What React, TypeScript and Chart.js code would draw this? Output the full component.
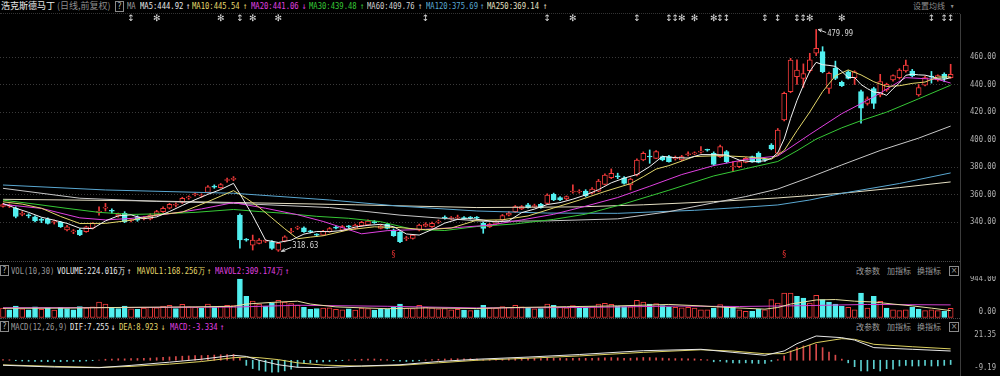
import React, { useEffect, useRef } from "react";
import { Chart, registerables } from "chart.js";
Chart.register(...registerables);

// ---------- DATA ----------
const OPEN = [351.4,351.5,350,345.5,345.2,343.8,341.8,342,339.8,339.7,334.2,332.8,334,333,335.5,347,350,348.5,344.5,346.3,341,343.8,342.2,342.2,345.2,347.5,350,352.2,354.3,357.5,359.8,358.9,361.5,365.9,364.9,370.2,371,345,327.5,323.2,324.4,325.9,325.7,319.6,326.1,332.7,335.5,335.8,333.3,330.8,330.5,333,336,334.1,336.8,335.4,337.3,337.8,340,335.3,338.3,334.1,332.4,327.8,328.1,334.1,337,336.6,339.9,343.5,342.4,342.9,343,343.3,343.4,339,336.6,338.5,341.5,345,347.5,349.5,352.4,351,352.9,353.6,360.1,357.7,356.7,361.8,361.8,362.5,360.9,362.5,367.4,372.2,373.3,372.2,366.9,374.2,385.1,387.8,386.3,387.5,387.5,386,385.1,388.9,389.6,390.8,392.6,390,387.5,391.2,380,380.2,383.4,387.5,390,385.4,396,390,414.2,434.8,445.7,444.5,450,462.7,463.9,437.2,451.8,441.6,449.3,445,434.8,426.3,437,432.4,436,443.3,445,449.8,449.8,432.4,439.6,446,443.3,447.4,445];
const HIGH = [353.5,353.2,351,347.5,346,344.5,343,343,341.5,340.5,337.5,334.5,335,337,339.5,351,353.5,349.5,346.5,347.5,342.5,344.5,344,346,348.5,351,353.5,354,358,359,361,360.5,366.5,367,368,372,373,346,328,330.5,328,327,326.5,325,330,335.4,337,336.5,334,331.5,334,336,337,337.5,337.5,338.5,340.5,341.5,341,338,339,335,333,329.5,331,338.5,339.5,340,341.5,344.5,344,345,344,344,344,340,339,341,345.5,347.5,352,352,353.5,353,353.5,360.5,361,358.5,359,367,363.5,363.5,365,371,375,378.6,375.5,373,372,386,391,392.4,392,388,388.5,388,388.5,391,391,394.8,393,391,396,392,383.9,384.5,387,388,391,386,397,408,434.5,459,458,455,462.7,479.99,467.5,449,457,442.5,450,450,436,431,438,447.4,441,447,451.5,457.8,451,440,446,449.5,447,448.5,454.7];
const LOW = [350.8,350.5,343,344.5,343,340,339.5,338.5,338.5,336,333.5,331.5,330,332.5,335,345,348,346.5,343.5,339.5,340,340.5,341.5,341.5,344.5,347,349.5,351,353.5,356.5,359,358,361,364.5,364.5,369,370,321,326,319.6,324,325,320,318.63,325.5,332,334.5,332.5,332,329.5,330,332.5,335,333.5,335.5,335,337,337.5,339,335,335,329.5,325,326.5,327.5,333.5,336.5,336,339,342,341.5,342,342,342,342,331.8,336,338,341,344.5,347,349,350,350.5,350,353,355.5,355.5,356,361,361,358.5,360.5,362,367,371.5,371.5,367.5,363.3,373.5,384.5,382.7,386,384.5,383.5,385,384.5,388,389,390,391.5,381,387,383,376.6,379.5,383,383.5,383,384,392.5,389.5,413.5,434,440,438,449,461,448.5,433.6,443.5,438.5,444,440,411.8,425,422.5,431,435,442.5,444,449,445.5,431.5,439,441,442.5,442,444.5];
const CLOSE = [352.6,352.5,344,346.2,344.4,340.8,341.2,339,340.4,336.6,336.5,333.2,330.6,336.5,339,347.8,350.8,347.8,345.5,340.3,341.8,341.4,343,345,347.5,349.9,352.8,352.6,357.2,357.9,360.3,359.3,365.6,365.4,367.3,370.7,371.4,327,326.8,326.9,326.9,326.3,320.8,324.4,329.3,333.2,336,333,332.9,330.4,333.4,335.3,335.6,336.6,336.4,337.8,339.7,340.7,339.5,337.3,335.3,330,325.7,328.3,330.5,337.8,338.5,339,340.4,342.8,343,343.3,342.5,342.9,342.8,335.4,338.3,340.5,344.6,346.5,351.2,351.2,350.4,352,350.4,359.6,356,356,358.4,362.4,362.3,359.2,364,369.8,374.2,375.4,372.8,368.1,371.3,385.1,389.9,387.3,391.2,385.1,383.9,386.6,387.5,389.4,390.1,391.3,392.2,381.9,394.8,383.9,380.5,383.9,386.3,383.9,383.4,384.9,393.1,406.9,433.6,457.8,450.5,448,458,466.3,449.3,448.1,444.5,439.2,444.5,449.3,422.7,429.5,426.3,442.1,440.1,446.4,450.5,454.2,446.4,437.7,445,445.4,446.4,444.5,447.4];
// volume, unit 万
const VOLUME = [230,190,280,210,190,260,200,240,180,250,220,190,270,240,260,380,330,250,220,280,210,200,230,250,240,280,300,220,320,260,250,230,330,270,280,300,290,944,520,400,330,280,350,420,380,340,300,250,200,220,230,240,200,190,210,180,230,220,180,200,210,260,330,230,220,300,250,240,210,220,190,200,180,170,190,300,240,230,270,250,300,260,230,210,220,330,300,250,240,290,240,260,270,330,350,320,280,270,260,420,380,330,340,290,260,250,240,250,230,191,191,233,314,273,249,191,151,151,208,191,437,355,600,600,519,478,355,543,437,380,331,273,249,191,600,233,519,396,233,191,167,191,249,208,167,191,167,151,224];
const MACD_HIST = [0.6,0.4,-0.3,-0.6,-0.8,-1.0,-1.0,-1.1,-1.2,-1.1,-1.0,-0.9,-1.0,-0.6,-0.3,0.2,0.8,1.0,1.2,1.1,1.3,1.4,1.5,1.7,2.0,2.3,2.6,2.9,3.2,3.4,3.6,3.7,3.9,4.1,4.3,4.4,4.6,1.5,-4.0,-6.5,-7.8,-8.6,-9.4,-9.2,-8.3,-7.0,-5.5,-2.5,-2.0,-1.6,-1.2,-1.0,-0.6,-0.3,0.3,0.6,0.8,0.9,1.0,0.8,0.5,-0.3,-0.8,-1.0,-0.8,-0.4,0.3,0.6,0.8,1.0,1.2,1.2,1.1,1.2,1.0,0.4,0.5,0.6,0.9,1.1,1.4,1.6,1.6,1.5,1.4,1.6,1.6,1.5,1.4,1.5,1.6,1.5,1.6,1.8,2.0,2.1,1.9,1.6,1.6,2.0,2.2,2.1,2.0,1.7,1.4,1.3,1.3,1.2,1.1,0.8,0.4,-1.2,-0.8,-1.5,-2.0,-2.2,-2.0,-2.2,-2.5,-2.4,-0.8,0.5,3.4,7.3,9.9,11.2,11.7,12.5,9.9,6.5,4.0,0.9,-2.0,-5.0,-8.4,-8.4,-6.6,-8.4,-6.6,-7.0,-4.5,-4.0,-4.5,-4.5,-4.0,-4.5,-4.5,-4.0,-3.334];

// moving-average lines: [candle index, value]
const MA5 = [[0,353.5],[2,350],[4,347],[6,343.5],[8,341.3],[10,339],[12,335.5],[14,335.2],[16,340.8],[18,344.5],[20,345.2],[22,342.4],[24,343.7],[26,347.6],[28,352],[30,356.2],[32,360.1],[34,363.6],[36,368.1],[37,360.4],[38,352.6],[39,344.6],[40,335.8],[41,326.8],[43,325.1],[45,326.8],[47,331.2],[49,333.1],[51,333],[53,333.8],[55,336.3],[57,337.6],[59,338.3],[61,336.6],[63,331.3],[65,330.5],[67,334.5],[69,339.2],[71,341.9],[73,342.5],[75,341.4],[77,340],[79,340.9],[81,346.8],[83,349.4],[85,352.7],[87,354.1],[89,356.6],[91,359.7],[93,363.5],[95,368.5],[97,371.9],[99,374.5],[101,380.3],[103,387.7],[105,386.8],[107,386.5],[109,389],[111,389],[113,388.8],[115,385],[117,383.7],[119,384.5],[120,386.3],[121,390.4],[122,400.4],[123,415.3],[124,428.4],[125,439.4],[126,449.6],[127,456.1],[128,454.4],[129,453.9],[130,453.2],[131,449.5],[132,445.1],[133,445.1],[134,440],[135,437],[136,434.5],[137,434],[138,432.1],[139,436.9],[140,441.1],[141,446.7],[142,447.5],[143,447],[144,446.8],[145,445.7],[146,444.2],[147,443.8],[148,444.92]];
const MA10 = [[0,354.7],[3,353],[6,350],[9,344],[12,338.9],[16,339],[20,341.3],[24,345.1],[28,347.2],[32,354.8],[36,362.8],[38,357.2],[40,350.7],[42,342.9],[44,335.1],[46,327.8],[48,329],[50,330],[54,334.3],[58,336.5],[62,335.9],[66,334.4],[70,335.6],[74,341.3],[78,341.6],[82,344.4],[86,350.2],[90,355.9],[94,362.2],[98,367.9],[100,373],[102,378.5],[104,381],[108,387.6],[112,388.3],[116,387.4],[120,385.7],[122,392],[124,406.4],[126,420],[128,434.8],[130,446.3],[132,450.6],[134,447],[136,442],[138,438.6],[140,439.1],[142,440.8],[144,441.8],[146,445.4],[148,445.54]];
const MA20 = [[0,352.8],[6,349.9],[12,343],[16,341.5],[20,342.6],[26,346],[31,349.5],[36,354.1],[41,350],[46,345.3],[50,340.4],[56,331.4],[60,333.7],[66,334.7],[71,336],[76,337.7],[81,341.5],[86,345.6],[91,351.5],[96,357.8],[101,366],[106,374.5],[111,381],[116,385.5],[121,388],[126,403.7],[131,418.8],[136,431],[141,445],[146,443.7],[148,441.06]];
const MA30 = [[0,355.9],[5,353],[10,349.9],[15,347],[20,345.5],[25,346],[30,347],[36,349.1],[40,347.6],[44,346.3],[49,344.1],[54,342.7],[59,340.2],[64,334.6],[69,333.8],[74,336.7],[80,338.6],[86,341.9],[91,345.7],[97,353.2],[104,363.1],[111,373.5],[116,378.8],[121,384],[124,391.8],[127,400.3],[131,408.5],[134,413.7],[138,419.9],[143,429.6],[148,439.48]];
const MA60 = [[0,364.5],[12,357.3],[24,355],[36,353.6],[51,350.5],[62,345],[75,340.5],[85,340.8],[96,342.3],[104,347.5],[111,354],[116,358.5],[121,364],[126,372.5],[131,381.5],[137,392],[143,401],[148,409.76]];
const MA120 = [[0,366.9],[16,363.3],[36,360.9],[51,356],[62,351.5],[74,348],[85,346.5],[96,346.3],[108,348.5],[115,350.5],[121,352.4],[126,356],[131,360.8],[140,368],[148,375.69]];
const MA250 = [[0,356.5],[20,355.5],[36,354.2],[55,352.5],[74,350.5],[90,351],[100,352.5],[111,354.8],[121,357.5],[131,360.9],[140,365],[148,369.14]];
const MAVOL1 = [[0,225],[10,230],[20,250],[30,260],[36,275],[38,330],[42,370],[46,400],[48,330],[52,260],[60,215],[66,235],[74,220],[80,245],[88,265],[96,285],[104,320],[109,285],[114,240],[119,205],[121,245],[123,330],[125,380],[127,430],[130,440],[133,400],[136,380],[139,330],[142,285],[145,230],[148,168.256]];
const MAVOL2 = [[0,240],[20,245],[36,255],[46,300],[60,275],[74,235],[90,245],[105,280],[115,270],[125,290],[135,320],[148,309.174]];
const DIF = [[0,-3.9],[8,-5.3],[15,-5.8],[20,-4],[26,-1.5],[31,0.8],[36,3.9],[38,3],[40,0],[43,-3.5],[46,-5.5],[50,-5.8],[56,-4.5],[62,-3.5],[68,-1],[74,0.8],[82,2.5],[90,4.5],[100,7.5],[109,8.6],[114,6.2],[119,3.9],[122,7.3],[124,13],[127,19],[131,17.7],[133,15.8],[136,9.9],[142,8.6],[148,7.255]];
const DEA = [[0,-3.6],[8,-4.8],[15,-5.6],[20,-4.8],[26,-3],[31,-1],[36,2],[38,2.5],[40,2],[43,0.5],[46,-2],[50,-3.8],[56,-4.6],[62,-4],[68,-2],[74,0],[82,1.6],[90,3.4],[100,6.2],[109,8.2],[114,7.2],[119,5.1],[122,5.2],[124,8.5],[127,13.8],[131,16.9],[133,16.4],[136,12.5],[142,10.6],[148,8.923]];

const PRICE_TICKS = [340, 360, 380, 400, 420, 440, 460];
const VOL_TICKS = [944, 0];
const MACD_TICKS = [21.35, -9.19];
const EVENT_ARROWS = [20, 37, 66, 85, 99, 104, 105, 112, 113, 119, 121, 124, 125, 145, 147, 148];
const EVENT_STARS = [24, 34, 39, 43, 89, 106, 108, 111, 126, 131];
const S_MARKS = [61, 122];

// ---------- STYLE ----------
const RED = "#f03a3a";
const CYAN = "#52f0f0";
const GRID = "#3a3a3a";
const AXIS_TXT = "#b4b4b4";
const ANNO = "#d6d6d6";
const NUM_FONT = '"DejaVu Sans Mono", monospace';
const CJK_FONT = '"Noto Sans CJK SC", sans-serif';
const X_MIN = -0.4685;
const X_MAX = 149.46;

function drawNarrow(ctx: any, text: string, x: number, y: number, color: string, align = "left", size = 9, sx = 0.8) {
  ctx.save();
  ctx.translate(x, y);
  ctx.scale(sx, 1);
  ctx.font = `${size}px ${NUM_FONT}`;
  ctx.fillStyle = color;
  ctx.textAlign = align;
  ctx.textBaseline = "middle";
  ctx.fillText(text, 0, 0);
  ctx.restore();
}

function dotted(ctx: any, x0: number, x1: number, y: number, color = GRID) {
  ctx.save();
  ctx.strokeStyle = color;
  ctx.lineWidth = 1;
  ctx.setLineDash([1, 2]);
  const py = Math.round(y) + 0.5;
  ctx.beginPath();
  ctx.moveTo(x0, py);
  ctx.lineTo(x1, py);
  ctx.stroke();
  ctx.restore();
}

const knots = (k: number[][]) => k.map(([x, y]) => ({ x, y }));
const lineDs = (k: number[][], color: string) => ({
  type: "line",
  data: knots(k),
  borderColor: color,
  borderWidth: 1,
  pointRadius: 0,
  tension: 0,
  order: 0,
});

function baseOptions(yMin: number, yMax: number) {
  return {
    responsive: false,
    maintainAspectRatio: false,
    animation: false,
    devicePixelRatio: 1,
    events: [],
    layout: { padding: { left: 0, right: 40, top: 0, bottom: 0 } },
    plugins: { legend: { display: false }, tooltip: { enabled: false } },
    scales: {
      x: { type: "linear", min: X_MIN, max: X_MAX, display: false, offset: false },
      y: { type: "linear", min: yMin, max: yMax, display: false, beginAtZero: false },
    },
  };
}

export default function App() {
  const priceRef = useRef<HTMLCanvasElement>(null);
  const volRef = useRef<HTMLCanvasElement>(null);
  const macdRef = useRef<HTMLCanvasElement>(null);

  useEffect(() => {
    const ups = CLOSE.map((c, i) => c >= OPEN[i]);
    const volUps = CLOSE.map((c, i) => (i === 0 ? c >= OPEN[0] : c >= CLOSE[i - 1]));

    const pricePlugin = {
      id: "pricePanel",
      beforeDatasetsDraw(chart: any) {
        const { ctx, chartArea, scales } = chart;
        PRICE_TICKS.forEach((v) => dotted(ctx, chartArea.left, chartArea.right, scales.y.getPixelForValue(v)));
      },
      afterDraw(chart: any) {
        const { ctx, scales } = chart;
        const x = scales.x, y = scales.y;
        PRICE_TICKS.forEach((v) => drawNarrow(ctx, v.toFixed(2), 996, y.getPixelForValue(v), AXIS_TXT, "right"));
        let hi = 0, lo = 0;
        HIGH.forEach((h, i) => { if (h > HIGH[hi]) hi = i; });
        LOW.forEach((l, i) => { if (l < LOW[lo]) lo = i; });
        ctx.save();
        ctx.strokeStyle = ANNO;
        ctx.lineWidth = 1;
        const hx = x.getPixelForValue(hi), hy = y.getPixelForValue(HIGH[hi]);
        ctx.beginPath();
        ctx.moveTo(hx + 2, hy); ctx.lineTo(hx + 10, hy + 3);
        ctx.moveTo(hx + 2, hy); ctx.lineTo(hx + 6, hy - 0.5);
        ctx.moveTo(hx + 2, hy); ctx.lineTo(hx + 5, hy + 2.5);
        ctx.stroke();
        const lx = x.getPixelForValue(lo), ly = y.getPixelForValue(LOW[lo]);
        ctx.beginPath();
        ctx.moveTo(lx + 3, ly); ctx.lineTo(lx + 13, ly - 4);
        ctx.moveTo(lx + 3, ly); ctx.lineTo(lx + 7, ly - 0.2);
        ctx.moveTo(lx + 3, ly); ctx.lineTo(lx + 6, ly - 3);
        ctx.stroke();
        ctx.restore();
        drawNarrow(ctx, HIGH[hi].toFixed(2), hx + 11, hy + 4.5, ANNO);
        drawNarrow(ctx, LOW[lo].toFixed(2), lx + 14, ly - 5.5, ANNO);
        // event markers
        ctx.save();
        ctx.fillStyle = "#dcdcdc";
        ctx.font = `9px "DejaVu Sans", sans-serif`;
        ctx.textAlign = "center";
        ctx.textBaseline = "middle";
        EVENT_ARROWS.forEach((i) => ctx.fillText("\u2195", x.getPixelForValue(i), 4.5));
        EVENT_STARS.forEach((i) => ctx.fillText("\u273B", x.getPixelForValue(i), 4.5));
        ctx.fillStyle = "#e03030";
        ctx.font = `8px "DejaVu Sans", sans-serif`;
        S_MARKS.forEach((i) => ctx.fillText("\u00A7", x.getPixelForValue(i), 241));
        ctx.restore();
      },
    };

    const volPlugin = {
      id: "volPanel",
      afterDraw(chart: any) {
        const { ctx, scales } = chart;
        drawNarrow(ctx, VOL_TICKS[0].toFixed(2), 996, scales.y.getPixelForValue(VOL_TICKS[0]), AXIS_TXT, "right");
        drawNarrow(ctx, VOL_TICKS[1].toFixed(2), 996, scales.y.getPixelForValue(VOL_TICKS[1]) - 6, AXIS_TXT, "right");
      },
    };

    const macdPlugin = {
      id: "macdPanel",
      afterDraw(chart: any) {
        const { ctx, scales } = chart;
        drawNarrow(ctx, MACD_TICKS[0].toFixed(2), 996, scales.y.getPixelForValue(MACD_TICKS[0]) + 2, AXIS_TXT, "right");
        drawNarrow(ctx, MACD_TICKS[1].toFixed(2), 996, scales.y.getPixelForValue(MACD_TICKS[1]) - 4, AXIS_TXT, "right");
      },
    };

    const charts: any[] = [];

    charts.push(
      new Chart(priceRef.current as any, {
        type: "bar",
        data: {
          datasets: [
            lineDs(MA5, "#f2f2f2"),
            lineDs(MA10, "#e2d66a"),
            lineDs(MA20, "#e040e0"),
            lineDs(MA30, "#36c836"),
            lineDs(MA60, "#c8c8c8"),
            lineDs(MA120, "#5aa8d2"),
            lineDs(MA250, "#e6e0c4"),
            {
              type: "bar",
              data: OPEN.map((o, i) => ({ x: i, y: [o, CLOSE[i]] })),
              backgroundColor: ups.map((u) => (u ? "#000" : CYAN)),
              borderColor: ups.map((u) => (u ? RED : CYAN)),
              borderWidth: 1,
              borderSkipped: false,
              barThickness: 5,
              minBarLength: 1,
              grouped: false,
              order: 1,
            },
            {
              type: "bar",
              data: LOW.map((l, i) => ({ x: i, y: [l, HIGH[i]] })),
              backgroundColor: ups.map((u) => (u ? RED : CYAN)),
              borderWidth: 0,
              barThickness: 1,
              grouped: false,
              order: 2,
            },
          ],
        },
        options: baseOptions(312.36, 491.27) as any,
        plugins: [pricePlugin],
      } as any)
    );

    charts.push(
      new Chart(volRef.current as any, {
        type: "bar",
        data: {
          datasets: [
            lineDs(MAVOL1, "#e6e0a0"),
            lineDs(MAVOL2, "#d040d0"),
            {
              type: "bar",
              data: VOLUME.map((v, i) => ({ x: i, y: v })),
              backgroundColor: volUps.map((u) => (u ? "#000" : CYAN)),
              borderColor: volUps.map((u) => (u ? RED : CYAN)),
              borderWidth: 1,
              borderSkipped: false,
              barThickness: 5,
              grouped: false,
              order: 1,
            },
          ],
        },
        options: baseOptions(-12.26, 1017.6) as any,
        plugins: [volPlugin],
      } as any)
    );

    charts.push(
      new Chart(macdRef.current as any, {
        type: "bar",
        data: {
          datasets: [
            lineDs(DIF, "#e8e8e8"),
            lineDs(DEA, "#dcd060"),
            {
              type: "bar",
              data: MACD_HIST.map((v, i) => ({ x: i, y: v })),
              backgroundColor: MACD_HIST.map((v) => (v >= 0 ? "#d84a4a" : "#5cd0d0")),
              borderWidth: 0,
              barThickness: 1,
              grouped: false,
              order: 1,
            },
          ],
        },
        options: baseOptions(-12.32, 23.7) as any,
        plugins: [macdPlugin],
      } as any)
    );

    return () => charts.forEach((c) => c.destroy());
  }, []);

  const narrow = (x: number, y: number, color: string, text: string) => (
    <span
      style={{
        position: "absolute",
        left: x,
        top: y,
        color,
        fontFamily: NUM_FONT,
        fontSize: 9,
        lineHeight: "12px",
        whiteSpace: "nowrap",
        transform: "scaleX(0.8)",
        transformOrigin: "0 0",
      }}
    >
      {text}
    </span>
  );
  const cjk = (x: number, y: number, color: string, text: string, size = 9) => (
    <span
      style={{
        position: "absolute",
        left: x,
        top: y,
        color,
        fontFamily: CJK_FONT,
        fontSize: size,
        lineHeight: "12px",
        whiteSpace: "nowrap",
      }}
    >
      {text}
    </span>
  );
  const qbox = (x: number, y: number) => (
    <span
      style={{
        position: "absolute",
        left: x,
        top: y,
        width: 7,
        height: 9,
        border: "1px solid #8a8a8a",
        color: "#b0b0b0",
        fontFamily: NUM_FONT,
        fontSize: 8,
        lineHeight: "9px",
        textAlign: "center",
      }}
    >
      ?
    </span>
  );
  const tools = (y: number) => (
    <>
      {cjk(856, y, "#9a9a9a", "改参数", 8)}
      {cjk(887, y, "#9a9a9a", "加指标", 8)}
      {cjk(917, y, "#9a9a9a", "换指标", 8)}
      <span
        style={{
          position: "absolute",
          left: 949,
          top: y + 1,
          width: 8,
          height: 8,
          border: "1px solid #8a8a8a",
          color: "#9a9a9a",
          fontFamily: "DejaVu Sans, sans-serif",
          fontSize: 8,
          lineHeight: "8px",
          textAlign: "center",
        }}
      >
        ×
      </span>
    </>
  );

  return (
    <div
      style={{
        position: "fixed",
        left: 0,
        top: 0,
        width: 1000,
        height: 376,
        background: "#000",
        overflow: "hidden",
      }}
    >
      {cjk(1, 0, "#ececec", "浩克斯德马丁")}
      {cjk(57, 0, "#8c8c8c", "(日线,前复权)")}
      {qbox(115, 1)}
      {narrow(127, 0, "#9a9a9a", "MA")}
      {narrow(140, 0, "#e6e6e6", "MA5:444.92")}
      {narrow(186, 0, "#e6e6e6", "↑")}
      {narrow(192, 0, "#e2d66a", "MA10:445.54")}
      {narrow(243, 0, "#e2d66a", "↑")}
      {narrow(251, 0, "#e040e0", "MA20:441.06")}
      {narrow(302, 0, "#e040e0", "↓")}
      {narrow(309, 0, "#36c836", "MA30:439.48")}
      {narrow(360, 0, "#36c836", "↑")}
      {narrow(367, 0, "#d0d0d0", "MA60:409.76")}
      {narrow(418, 0, "#d0d0d0", "↑")}
      {narrow(426, 0, "#5aa8d2", "MA120:375.69")}
      {narrow(480, 0, "#5aa8d2", "↑")}
      {narrow(487, 0, "#e6e0c4", "MA250:369.14")}
      {narrow(543, 0, "#e6e0c4", "↑")}
      {cjk(913, 0, "#8c8c8c", "设置均线", 8)}
      {narrow(950, 0, "#8c8c8c", "▾")}
      <div style={{ position: "absolute", left: 0, top: 13, width: 960, borderTop: "1px dotted #333" }} />

      <canvas ref={priceRef} width={1000} height={246} style={{ position: "absolute", left: 0, top: 14 }} />

      <div style={{ position: "absolute", left: 0, top: 261, width: 960, borderTop: "1px dotted #4a4a4a" }} />
      {qbox(0, 265)}
      {narrow(11, 265, "#9a9a9a", "VOL(10,30)")}
      {narrow(57, 265, "#e8e8e8", "VOLUME:224.016万")}
      {narrow(127, 265, "#e8e8e8", "↑")}
      {narrow(137, 265, "#e2d66a", "MAVOL1:168.256万")}
      {narrow(207, 265, "#e2d66a", "↑")}
      {narrow(215, 265, "#e040e0", "MAVOL2:309.174万")}
      {narrow(285, 265, "#e040e0", "↑")}
      {tools(265)}
      <canvas ref={volRef} width={1000} height={42} style={{ position: "absolute", left: 0, top: 276 }} />

      <div style={{ position: "absolute", left: 0, top: 318, width: 960, borderTop: "1px dotted #4a4a4a" }} />
      {qbox(0, 321)}
      {narrow(11, 321, "#9a9a9a", "MACD(12,26,9)")}
      {narrow(70, 321, "#e8e8e8", "DIF:7.255")}
      {narrow(111, 321, "#e8e8e8", "↓")}
      {narrow(119, 321, "#e2d66a", "DEA:8.923")}
      {narrow(161, 321, "#e2d66a", "↓")}
      {narrow(170, 321, "#e040e0", "MACD:-3.334")}
      {narrow(220, 321, "#e040e0", "↑")}
      {tools(321)}
      <canvas ref={macdRef} width={1000} height={46} style={{ position: "absolute", left: 0, top: 330 }} />

      <div style={{ position: "absolute", left: 960, top: 14, width: 1, height: 362, background: "#3c3c3c" }} />
    </div>
  );
}
